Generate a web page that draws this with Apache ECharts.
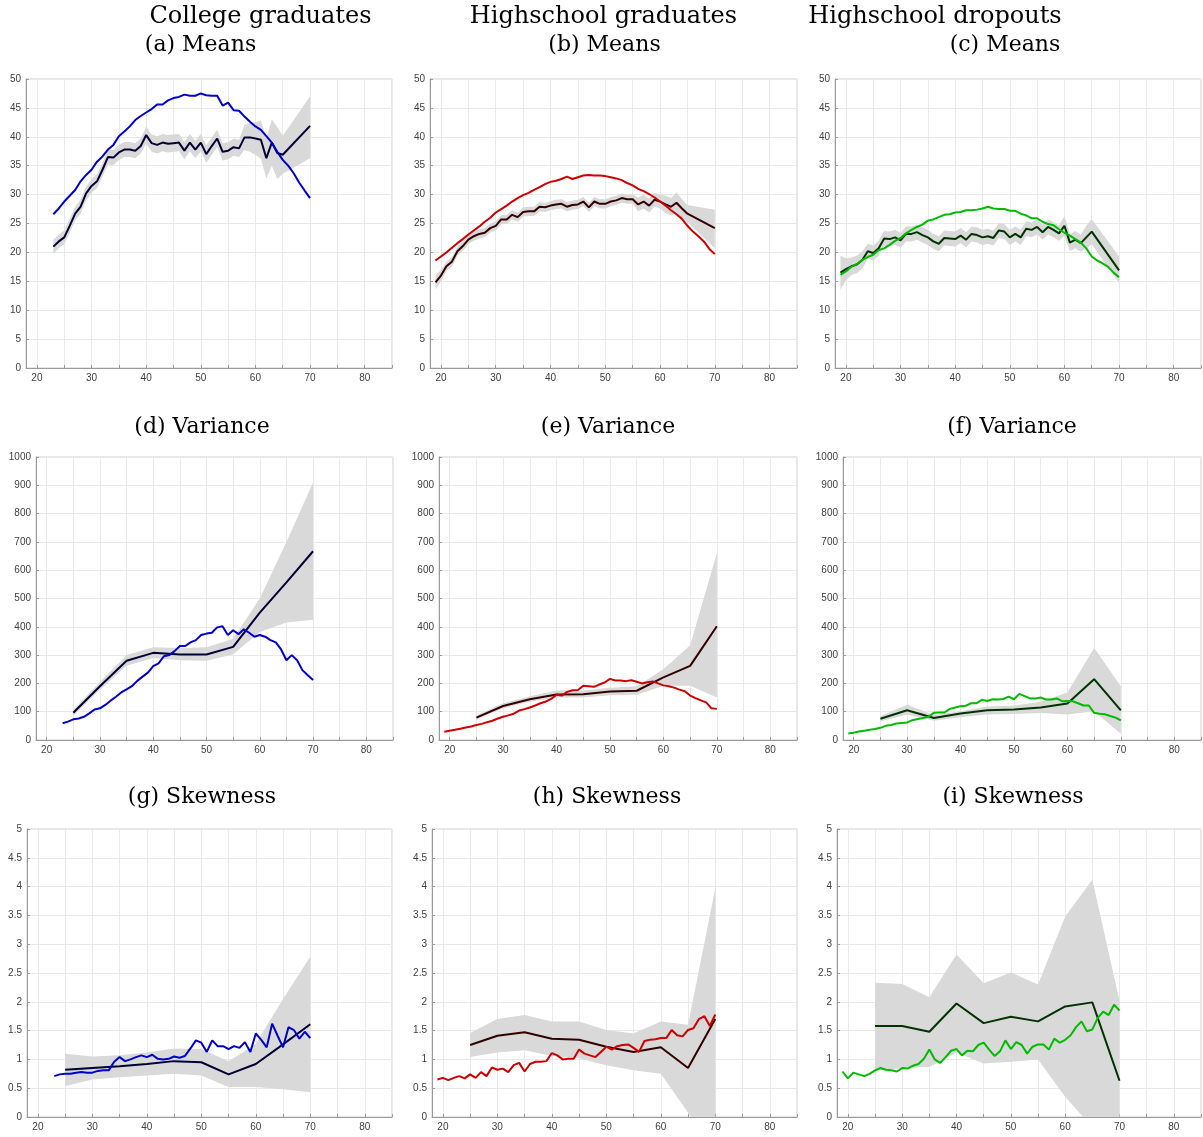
<!DOCTYPE html>
<html>
<head>
<meta charset="utf-8">
<title>Earnings moments by age and education</title>
<script src="https://cdn.jsdelivr.net/npm/echarts@6/dist/echarts.min.js"></script>
<style>
  html, body { margin: 0; padding: 0; background: #fff; }
  #chart { width: 1203px; height: 1137px; }
</style>
</head>
<body>
<div id="chart"></div>
<script>
// ---- age grids ----
const AGES_19_70 = [19,20,21,22,23,24,25,26,27,28,29,30,31,32,33,34,35,36,37,38,39,40,41,42,43,44,45,46,47,48,49,50,51,52,53,54,55,56,57,58,59,60,61,62,63,64,65,66,67,68,69,70];
const AGES_23_70 = [23,24,25,26,27,28,29,30,31,32,33,34,35,36,37,38,39,40,41,42,43,44,45,46,47,48,49,50,51,52,53,54,55,56,57,58,59,60,61,62,63,64,65,66,67,68,69,70];
const AGES_19_65_70 = [19,20,21,22,23,24,25,26,27,28,29,30,31,32,33,34,35,36,37,38,39,40,41,42,43,44,45,46,47,48,49,50,51,52,53,54,55,56,57,58,59,60,61,62,63,64,65,70];
const AGES_23_65_70 = [23,24,25,26,27,28,29,30,31,32,33,34,35,36,37,38,39,40,41,42,43,44,45,46,47,48,49,50,51,52,53,54,55,56,57,58,59,60,61,62,63,64,65,70];
const AGES_5Y = [25,30,35,40,45,50,55,60,65,70];

// ---- axis ticks ----
const X_TICKS = [20,25,30,35,40,45,50,55,60,65,70,75,80,85];
const X_LABELS = [20,30,40,50,60,70,80];

// ---- (a) college graduates, means ----
const collegeMeanData = [21.0,21.9,22.6,24.6,26.7,27.9,30.2,31.5,32.3,34.3,36.5,36.4,37.3,37.8,37.8,37.6,38.4,40.3,38.9,38.6,39.0,38.8,38.9,39.0,37.6,39.0,37.8,39.0,37.0,38.4,39.7,37.4,37.6,38.2,38.0,39.9,39.9,39.7,39.5,36.3,39.0,37.2,36.9,41.9];
const collegeMeanHi = [22.2,23.1,23.8,25.8,27.9,29.1,31.4,32.7,33.5,35.5,37.8,37.7,38.6,39.1,39.1,38.9,39.7,41.8,40.4,40.1,40.5,40.3,40.4,40.5,39.1,40.5,39.3,40.5,38.5,39.9,41.2,38.9,39.1,39.7,39.5,42.1,42.4,42.5,42.8,39.8,43.0,41.7,40.2,47.0];
const collegeMeanLo = [19.8,20.7,21.4,23.4,25.5,26.7,29.0,30.3,31.1,33.1,35.2,35.1,36.0,36.5,36.5,36.3,37.1,38.8,37.4,37.1,37.5,37.3,37.4,37.5,36.1,37.5,36.3,37.5,35.5,36.9,38.2,35.9,36.1,36.7,36.5,37.7,37.4,36.9,36.2,32.8,35.0,32.7,33.6,36.3];
const collegeMeanModel = [26.6,27.6,28.8,29.8,30.8,32.3,33.4,34.3,35.7,36.6,37.8,38.6,40.1,40.9,41.8,42.9,43.6,44.2,44.8,45.6,45.6,46.3,46.7,46.9,47.3,47.1,47.1,47.5,47.2,47.1,47.1,45.4,45.9,44.6,44.5,43.5,42.6,41.8,41.2,40.1,39.0,37.4,36.0,35.0,33.7,32.1,30.7,29.4];

// ---- (b) highschool graduates, means ----
const hsMeanData = [14.8,16.0,17.6,18.4,20.2,21.1,22.2,22.8,23.2,23.4,24.2,24.6,25.7,25.7,26.5,26.1,27.0,27.1,27.1,27.9,27.8,28.1,28.3,28.4,27.9,28.2,28.3,28.8,27.8,28.8,28.4,28.4,28.8,29.0,29.4,29.2,29.2,28.3,28.8,28.1,29.1,28.8,28.3,27.9,28.6,27.6,26.7,24.2];
const hsMeanHi = [16.0,17.0,18.4,19.2,21.0,21.9,23.0,23.6,24.0,24.2,25.0,25.4,26.5,26.5,27.3,26.9,27.8,27.9,27.9,28.7,28.6,28.9,29.1,29.2,28.7,29.0,29.1,29.6,28.6,29.6,29.2,29.2,29.6,29.8,30.2,30.0,30.0,29.5,30.0,29.3,30.3,30.0,29.8,29.4,30.4,29.2,28.2,27.4];
const hsMeanLo = [13.6,15.0,16.8,17.6,19.4,20.3,21.4,22.0,22.4,22.6,23.4,23.8,24.9,24.9,25.7,25.3,26.2,26.3,26.3,27.1,27.0,27.3,27.5,27.6,27.1,27.4,27.5,28.0,27.0,28.0,27.6,27.6,28.0,28.2,28.6,28.4,28.4,27.1,27.6,26.9,27.9,27.6,26.8,26.4,26.8,26.0,25.2,20.7];
const hsMeanModel = [18.6,19.3,20.0,20.8,21.6,22.3,23.1,23.8,24.5,25.3,26.0,26.9,27.5,28.1,28.8,29.4,29.9,30.3,30.8,31.3,31.8,32.2,32.4,32.7,33.1,32.7,33.0,33.3,33.4,33.3,33.3,33.2,33.0,32.8,32.5,32.0,31.6,31.0,30.6,30.1,29.5,28.8,28.1,27.3,26.6,25.8,24.6,23.6,22.8,21.9,20.6,19.7];

// ---- (c) highschool dropouts, means ----
const dropMeanData = [16.5,17.1,17.6,17.9,18.7,20.2,19.9,20.7,22.4,22.3,22.6,22.1,23.2,23.2,23.5,23.0,22.6,21.9,21.5,22.5,22.4,22.3,22.9,22.2,23.2,23.0,22.6,22.8,22.5,23.8,23.6,22.6,23.2,22.6,24.1,23.9,24.4,23.5,24.4,23.9,23.3,24.6,21.7,22.2,21.6,22.6,23.6,16.9];
const dropMeanHi = [19.4,19.0,19.1,19.4,20.2,21.5,21.2,22.0,23.7,23.6,23.9,23.4,24.5,24.5,24.8,24.3,23.9,23.2,22.8,23.8,23.7,23.6,24.2,23.5,24.5,24.3,23.9,24.1,23.8,25.1,24.9,23.9,24.5,23.9,25.4,25.2,25.7,24.8,25.7,25.2,24.6,26.3,23.2,23.7,23.1,24.6,25.8,19.3];
const dropMeanLo = [13.6,15.2,16.1,16.4,17.2,18.9,18.6,19.4,21.1,21.0,21.3,20.8,21.9,21.9,22.2,21.7,21.3,20.6,20.2,21.2,21.1,21.0,21.6,20.9,21.9,21.7,21.3,21.5,21.2,22.5,22.3,21.3,21.9,21.3,22.8,22.6,23.1,22.2,23.1,22.6,22.0,22.9,20.2,20.7,20.1,20.6,21.4,14.7];
const dropMeanModel = [16.1,16.7,17.5,18.0,18.7,19.2,19.6,20.4,20.7,21.3,22.0,22.5,23.3,23.9,24.4,24.8,25.5,25.7,26.1,26.5,26.6,26.9,27.0,27.3,27.3,27.4,27.6,27.9,27.6,27.5,27.5,27.2,27.2,26.7,26.4,25.9,25.9,25.3,24.9,24.7,24.0,23.4,22.9,22.3,21.7,20.7,19.3,18.6,18.1,17.5,16.5,15.7];

// ---- (d) college graduates, variance ----
const collegeVarData = [96,190,280,308,302,302,329,450,557,667];
const collegeVarHi = [106,205,300,328,325,328,358,500,700,910];
const collegeVarLo = [86,178,262,290,282,280,303,382,415,425];
const collegeVarModel = [59,65,73,76,82,94,108,112,124,139,153,168,179,190,209,224,238,261,271,296,300,314,332,332,345,353,371,376,379,398,402,371,388,374,391,379,365,371,365,353,345,320,282,300,282,247,229,212];

// ---- (e) highschool graduates, variance ----
const hsVarData = [79,120,144,161,162,171,174,221,262,402];
const hsVarHi = [87,130,155,175,175,185,190,250,335,660];
const hsVarLo = [72,112,135,150,150,158,160,192,192,150];
const hsVarModel = [29,33,36,40,44,48,53,57,63,68,76,82,87,93,104,109,115,122,130,136,145,160,157,170,176,177,192,190,188,196,203,216,210,210,208,211,206,200,204,207,200,193,190,185,178,172,157,148,140,133,112,110];

// ---- (f) highschool dropouts, variance ----
const dropVarData = [75,105,78,94,105,108,115,129,215,105];
const dropVarHi = [85,125,88,102,118,122,135,168,325,190];
const dropVarLo = [65,90,68,80,90,92,95,90,102,22];
const dropVarModel = [23,26,30,33,36,39,43,50,53,58,60,62,70,74,78,82,96,97,97,110,115,119,121,130,130,142,138,144,143,145,153,144,163,155,147,147,150,143,143,147,137,138,137,130,122,122,96,93,91,85,79,69];

// ---- (g) college graduates, skewness ----
const collegeSkewData = [0.82,0.85,0.88,0.92,0.97,0.95,0.74,0.92,1.26,1.61];
const collegeSkewHi = [1.10,1.05,1.07,1.12,1.19,1.18,0.97,1.27,2.05,2.78];
const collegeSkewLo = [0.54,0.65,0.69,0.72,0.75,0.72,0.52,0.52,0.48,0.43];
const collegeSkewModel = [0.71,0.74,0.75,0.75,0.77,0.78,0.77,0.77,0.80,0.81,0.81,0.96,1.04,0.97,1.00,1.04,1.07,1.04,1.08,1.01,1.00,1.01,1.05,1.03,1.06,1.19,1.33,1.29,1.13,1.33,1.23,1.23,1.18,1.23,1.20,1.30,1.13,1.45,1.34,1.21,1.62,1.41,1.21,1.56,1.51,1.36,1.48,1.37];

// ---- (h) highschool graduates, skewness ----
const hsSkewData = [1.25,1.41,1.47,1.36,1.34,1.22,1.13,1.21,0.85,1.70];
const hsSkewHi = [1.46,1.70,1.77,1.66,1.66,1.51,1.45,1.66,1.60,3.97];
const hsSkewLo = [1.04,1.12,1.16,1.06,1.02,0.90,0.81,0.75,0.08,-0.70];
const hsSkewModel = [0.65,0.68,0.64,0.68,0.71,0.67,0.74,0.68,0.78,0.71,0.86,0.82,0.84,0.78,0.90,0.94,0.79,0.92,0.96,0.96,0.97,1.11,1.07,1.00,1.01,1.01,1.17,1.10,1.07,1.04,1.13,1.22,1.17,1.23,1.25,1.26,1.20,1.13,1.32,1.34,1.35,1.37,1.37,1.51,1.42,1.40,1.51,1.54,1.70,1.75,1.58,1.78];

// ---- (i) highschool dropouts, skewness ----
const dropSkewData = [1.58,1.58,1.48,1.97,1.63,1.74,1.66,1.92,1.99,0.63];
const dropSkewHi = [2.33,2.31,2.08,2.82,2.32,2.51,2.30,3.48,4.12,2.02];
const dropSkewLo = [0.80,0.85,0.87,1.12,0.93,0.96,1.00,0.35,-0.18,-0.75];
const dropSkewModel = [0.79,0.67,0.77,0.74,0.71,0.75,0.81,0.85,0.82,0.81,0.79,0.85,0.84,0.89,0.92,1.01,1.17,1.00,0.94,1.04,1.15,1.18,1.07,1.15,1.14,1.25,1.29,1.17,1.06,1.14,1.33,1.18,1.30,1.25,1.10,1.22,1.26,1.26,1.17,1.36,1.29,1.34,1.42,1.56,1.66,1.49,1.52,1.72,1.83,1.77,1.95,1.85];

// ---- colours per education group ----
const COLLEGE = { dark: '#000033', bright: '#0000cc' };
const HIGHSCHOOL = { dark: '#330000', bright: '#cc0000' };
const DROPOUT = { dark: '#003300', bright: '#00bb00' };
const BAND = '#d9d9d9';

// ---- panel layout ----
const panels = [
  { box: [26, 79, 366, 289],  yMax: 50, yStep: 5, ages: AGES_23_65_70, data: collegeMeanData, lo: collegeMeanLo, hi: collegeMeanHi, mAges: AGES_23_70, model: collegeMeanModel, col: COLLEGE },
  { box: [430, 79, 367, 289], yMax: 50, yStep: 5, ages: AGES_19_65_70, data: hsMeanData, lo: hsMeanLo, hi: hsMeanHi, mAges: AGES_19_70, model: hsMeanModel, col: HIGHSCHOOL },
  { box: [835, 79, 366, 289], yMax: 50, yStep: 5, ages: AGES_19_65_70, data: dropMeanData, lo: dropMeanLo, hi: dropMeanHi, mAges: AGES_19_70, model: dropMeanModel, col: DROPOUT },
  { box: [36, 457, 357, 283],  yMax: 1000, yStep: 100, ages: AGES_5Y, data: collegeVarData, lo: collegeVarLo, hi: collegeVarHi, mAges: AGES_23_70, model: collegeVarModel, col: COLLEGE },
  { box: [439, 457, 358, 283], yMax: 1000, yStep: 100, ages: AGES_5Y, data: hsVarData, lo: hsVarLo, hi: hsVarHi, mAges: AGES_19_70, model: hsVarModel, col: HIGHSCHOOL },
  { box: [843, 457, 358, 283], yMax: 1000, yStep: 100, ages: AGES_5Y, data: dropVarData, lo: dropVarLo, hi: dropVarHi, mAges: AGES_19_70, model: dropVarModel, col: DROPOUT },
  { box: [27, 829, 365, 288],  yMax: 5, yStep: 0.5, ages: AGES_5Y, data: collegeSkewData, lo: collegeSkewLo, hi: collegeSkewHi, mAges: AGES_23_70, model: collegeSkewModel, col: COLLEGE },
  { box: [432, 829, 365, 288], yMax: 5, yStep: 0.5, ages: AGES_5Y, data: hsSkewData, lo: hsSkewLo, hi: hsSkewHi, mAges: AGES_19_70, model: hsSkewModel, col: HIGHSCHOOL },
  { box: [837, 829, 364, 288], yMax: 5, yStep: 0.5, ages: AGES_5Y, data: dropSkewData, lo: dropSkewLo, hi: dropSkewHi, mAges: AGES_19_70, model: dropSkewModel, col: DROPOUT }
];

const headings = [
  { text: 'College graduates', x: 260.5, y: 17, size: 24 },
  { text: 'Highschool graduates', x: 603.5, y: 17, size: 24 },
  { text: 'Highschool dropouts', x: 935, y: 17, size: 24 },
  { text: '(a) Means', x: 200.5, y: 45, size: 22 },
  { text: '(b) Means', x: 604.5, y: 45, size: 22 },
  { text: '(c) Means', x: 1005, y: 45, size: 22 },
  { text: '(d) Variance', x: 202, y: 427, size: 22 },
  { text: '(e) Variance', x: 608, y: 427, size: 22 },
  { text: '(f) Variance', x: 1012, y: 427, size: 22 },
  { text: '(g) Skewness', x: 202, y: 797, size: 22 },
  { text: '(h) Skewness', x: 607, y: 797, size: 22 },
  { text: '(i) Skewness', x: 1013, y: 797, size: 22 }
];

const AXIS_GREY = '#9a9a9a';
const GRID_GREY = '#e9e9e9';
const LABEL_STYLE = { fontFamily: 'Liberation Sans', fontSize: 10, color: '#404040' };

// Clip a polygon to the plotting rectangle (Sutherland–Hodgman).
function clipToRect(points, r) {
  const edges = [
    { inside: p => p[0] >= r.x, cut: (a, b) => { const t = (r.x - a[0]) / (b[0] - a[0]); return [r.x, a[1] + t * (b[1] - a[1])]; } },
    { inside: p => p[0] <= r.x + r.width, cut: (a, b) => { const X = r.x + r.width; const t = (X - a[0]) / (b[0] - a[0]); return [X, a[1] + t * (b[1] - a[1])]; } },
    { inside: p => p[1] >= r.y, cut: (a, b) => { const t = (r.y - a[1]) / (b[1] - a[1]); return [a[0] + t * (b[0] - a[0]), r.y]; } },
    { inside: p => p[1] <= r.y + r.height, cut: (a, b) => { const Y = r.y + r.height; const t = (Y - a[1]) / (b[1] - a[1]); return [a[0] + t * (b[0] - a[0]), Y]; } }
  ];
  let out = points;
  edges.forEach(e => {
    const input = out; out = [];
    for (let k = 0; k < input.length; k++) {
      const cur = input[k], prev = input[(k + input.length - 1) % input.length];
      const cIn = e.inside(cur), pIn = e.inside(prev);
      if (cIn) { if (!pIn) out.push(e.cut(prev, cur)); out.push(cur); }
      else if (pIn) out.push(e.cut(prev, cur));
    }
  });
  return out;
}

// Shaded confidence band drawn as one polygon: upper edge left→right, lower edge right→left.
function renderBand(params, api) {
  if (params.dataIndexInside !== 0) return null;
  const n = params.dataInsideLength;
  const upper = [], lower = [];
  for (let k = 0; k < n; k++) {
    const age = api.value(0, k);
    upper.push(api.coord([age, api.value(2, k)]));
    lower.push(api.coord([age, api.value(1, k)]));
  }
  const pts = clipToRect(upper.concat(lower.reverse()), params.coordSys);
  return { type: 'polygon', shape: { points: pts }, style: { fill: BAND, stroke: null }, silent: true };
}

const grids = [], xAxes = [], yAxes = [], series = [];

panels.forEach((p, i) => {
  grids.push({
    left: p.box[0], top: p.box[1], width: p.box[2], height: p.box[3],
    show: true, borderColor: '#cfcfcf', borderWidth: 1, containLabel: false
  });
  xAxes.push({
    type: 'value', gridIndex: i, min: 18, max: 85,
    axisLine: { show: true, onZero: false, lineStyle: { color: AXIS_GREY, width: 1 } },
    axisTick: { show: true, inside: true, length: 3, customValues: X_TICKS, lineStyle: { color: AXIS_GREY } },
    axisLabel: Object.assign({ customValues: X_LABELS, margin: 5 }, LABEL_STYLE),
    splitLine: { show: true, lineStyle: { color: GRID_GREY, width: 1 } }
  });
  yAxes.push({
    type: 'value', gridIndex: i, min: 0, max: p.yMax, interval: p.yStep,
    axisLine: { show: true, onZero: false, lineStyle: { color: AXIS_GREY, width: 1 } },
    axisTick: { show: true, inside: true, length: 3, lineStyle: { color: AXIS_GREY } },
    axisLabel: Object.assign({ margin: 5, formatter: v => String(Math.round(v * 100) / 100) }, LABEL_STYLE),
    splitLine: { show: true, lineStyle: { color: GRID_GREY, width: 1 } }
  });

  // confidence band
  series.push({
    type: 'custom', xAxisIndex: i, yAxisIndex: i,
    data: p.ages.map((a, k) => [a, p.lo[k], p.hi[k]]),
    encode: { x: 0, y: [1, 2] },
    renderItem: renderBand, silent: true, z: 1
  });
  // observed profile
  series.push({
    type: 'line', xAxisIndex: i, yAxisIndex: i,
    data: p.ages.map((a, k) => [a, p.data[k]]),
    symbol: 'none', lineStyle: { color: p.col.dark, width: 2 }, z: 3
  });
  // simulated profile
  series.push({
    type: 'line', xAxisIndex: i, yAxisIndex: i,
    data: p.mAges.map((a, k) => [a, p.model[k]]),
    symbol: 'none', lineStyle: { color: p.col.bright, width: 2 }, z: 4
  });
});

const graphics = headings.map(h => ({
  type: 'text', x: h.x, y: h.y,
  style: {
    text: h.text, fill: '#000',
    font: h.size + 'px "DejaVu Serif"',
    align: 'center', verticalAlign: 'middle'
  }
}));

const chart = echarts.init(document.getElementById('chart'), null, { renderer: 'canvas' });
chart.setOption({
  animation: false,
  backgroundColor: '#ffffff',
  grid: grids,
  xAxis: xAxes,
  yAxis: yAxes,
  series: series,
  graphic: graphics
});
</script>
</body>
</html>
